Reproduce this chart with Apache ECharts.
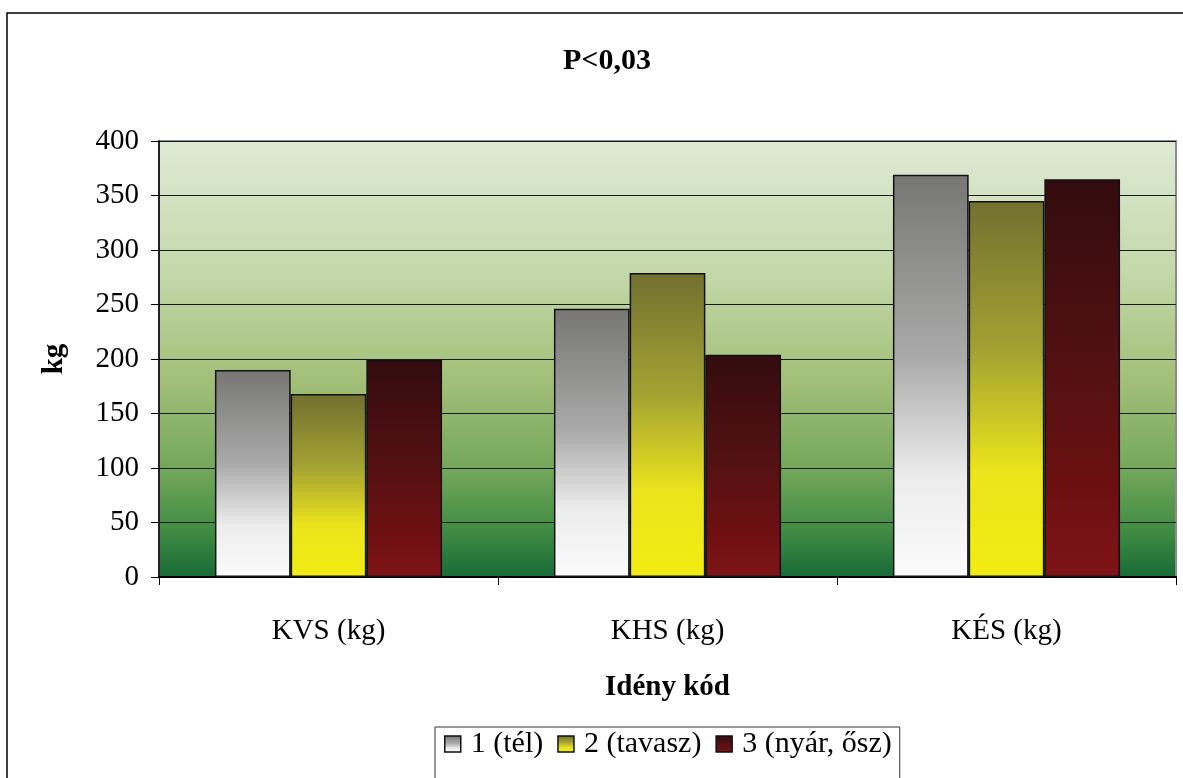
<!DOCTYPE html>
<html>
<head>
<meta charset="utf-8">
<script src="https://cdn.jsdelivr.net/npm/echarts@6/dist/echarts.min.js"></script>
<style>
  html, body { margin: 0; padding: 0; background: #ffffff; }
  #chart { width: 1183px; height: 778px; }
</style>
</head>
<body>
<div id="chart"></div>
<script>
// Seasonal weights by measurement code
const categories = ['KVS (kg)', 'KHS (kg)', 'KÉS (kg)'];
const seriesNames = ['1 (tél)', '2 (tavasz)', '3 (nyár, ősz)'];
const winter = [190, 246, 369];
const spring = [168, 279, 345];
const summerAutumn = [199, 204, 365];
const yTicks = { min: 0, max: 400, interval: 50 };

const FONT = '"Liberation Serif", "Times New Roman", serif';
const FS = 29;

function vgrad(stops) {
  return new echarts.graphic.LinearGradient(0, 0, 0, 1,
    stops.map(s => ({ offset: s[0], color: s[1] })));
}

const fills = [
  vgrad([[0, '#767674'], [0.45, '#a9a9a9'], [0.75, '#ececec'], [1, '#fbfbfb']]),
  vgrad([[0, '#717030'], [0.4, '#a4a232'], [0.72, '#ebe41c'], [1, '#f2ec12']]),
  vgrad([[0, '#330c0f'], [0.5, '#551112'], [0.8, '#6e1012'], [1, '#7e1417']])
];

const chart = echarts.init(document.getElementById('chart'), null, { renderer: 'canvas' });

const plotBg = vgrad([
  [0, '#dfead5'], [0.3, '#c4d8aa'], [0.55, '#a2bf78'],
  [0.75, '#74a75a'], [0.9, '#3e8a43'], [1, '#176a38']
]);

const makeSeries = (name, data, i) => ({
  name: name,
  type: 'bar',
  data: data,
  barGap: '0%',
  barCategoryGap: '33%',
  itemStyle: { color: fills[i], borderColor: '#111111', borderWidth: 1.5 },
  emphasis: { disabled: true }
});

chart.setOption({
  animation: false,
  textStyle: { fontFamily: FONT, color: '#000' },
  title: {
    text: 'P<0,03',
    left: 602,
    top: 41,
    textAlign: 'center',
    textStyle: { fontFamily: FONT, fontSize: 30, fontWeight: 'bold', color: '#000' }
  },
  graphic: [
    {
      type: 'rect',
      shape: { x: 7, y: 13, width: 1300, height: 900 },
      style: { fill: 'none', stroke: '#000', lineWidth: 1.5 },
      silent: true, z: -10
    }
  ],
  grid: {
    left: 159, right: 7, top: 141, bottom: 201,
    show: true,
    backgroundColor: plotBg,
    borderColor: '#8c8c8c',
    borderWidth: 2
  },
  legend: {
    left: 435,
    top: 727,
    padding: [2, 8, 40, 9],
    itemGap: 14,
    itemWidth: 16,
    itemHeight: 16,
    borderColor: '#333',
    borderWidth: 1,
    icon: 'rect',
    textStyle: { fontFamily: FONT, fontSize: 30, color: '#000', padding: [0, 0, 0, 5] },
    data: seriesNames.map((n, i) => ({
      name: n,
      itemStyle: { color: fills[i], borderColor: '#111', borderWidth: 1.5 }
    }))
  },
  xAxis: {
    type: 'category',
    data: categories,
    name: 'Idény kód',
    nameLocation: 'middle',
    nameGap: 96,
    nameTextStyle: { fontFamily: FONT, fontSize: FS, fontWeight: 'bold', color: '#000' },
    axisLine: { lineStyle: { color: '#000', width: 2 } },
    axisTick: { show: true, length: 8, lineStyle: { color: '#000' } },
    axisLabel: { fontFamily: FONT, fontSize: FS, color: '#000', margin: 40 },
    splitLine: { show: false }
  },
  yAxis: {
    type: 'value',
    min: yTicks.min,
    max: yTicks.max,
    interval: yTicks.interval,
    name: 'kg',
    nameLocation: 'middle',
    nameGap: 90,
    nameRotate: 90,
    nameTextStyle: { fontFamily: FONT, fontSize: FS, fontWeight: 'bold', color: '#000' },
    axisLine: { show: true, lineStyle: { color: '#000', width: 1.5 } },
    axisTick: { show: true, length: 8, lineStyle: { color: '#000' } },
    axisLabel: { fontFamily: FONT, fontSize: FS, color: '#000', margin: 20 },
    splitLine: { show: true, lineStyle: { color: '#1a1a1a', width: 1.2 } }
  },
  series: [
    makeSeries(seriesNames[0], winter, 0),
    makeSeries(seriesNames[1], spring, 1),
    makeSeries(seriesNames[2], summerAutumn, 2)
  ]
});
</script>
</body>
</html>
